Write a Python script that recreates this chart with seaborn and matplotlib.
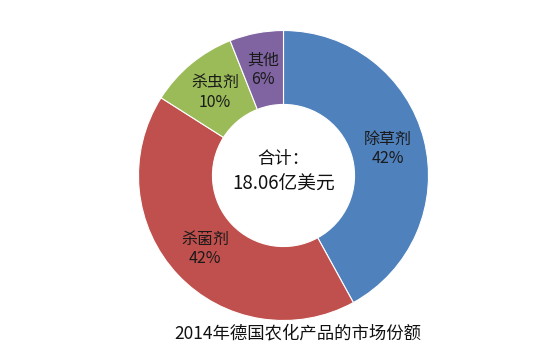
import matplotlib
matplotlib.use("Agg")
import matplotlib.pyplot as plt
import seaborn as sns

categories = ["除草剂", "杀菌剂", "杀虫剂", "其他"]
shares = [42, 42, 10, 6]
colors = ["#4F81BD", "#C0504D", "#9BBB59", "#8064A2"]
center_title = "合计："
center_value = "18.06亿美元"
chart_title = "2014年德国农化产品的市场份额"

sns.set_theme(style="white")
plt.rcParams["font.family"] = ["Noto Sans CJK SC", "DejaVu Sans"]

fig = plt.figure(figsize=(5.39, 3.52), dpi=100)
W, H = 539, 352
cx, cy, R = 283.5, 176.5, 145
ax = fig.add_axes([(cx - R) / W, (cy - R) / H, 2 * R / W, 2 * R / H])

labels = [f"{c}\n{s}%" for c, s in zip(categories, shares)]
wedges, texts = ax.pie(
    shares, labels=labels, colors=colors, startangle=90, counterclock=False,
    radius=1.0, labeldistance=0.74,
    wedgeprops=dict(width=0.51, edgecolor="white", linewidth=0.8),
    textprops=dict(fontsize=11.5, color="#1a1a1a", linespacing=1.2),
)
for t in texts:
    t.set_ha("center")
    t.set_va("center")
ax.set_xlim(-1, 1)
ax.set_ylim(-1, 1)
ax.set_aspect("equal")
ax.axis("off")

ax.text(0, 0.115, center_title, ha="center", va="center", fontsize=12.5, color="#111111")
ax.text(0, -0.06, center_value, ha="center", va="center", fontsize=13.5, color="#111111")

fig.text(298 / W, 1 - 333 / H, chart_title, ha="center", va="center", fontsize=12.5, color="#111111")

fig.savefig("out.png", dpi=100)
